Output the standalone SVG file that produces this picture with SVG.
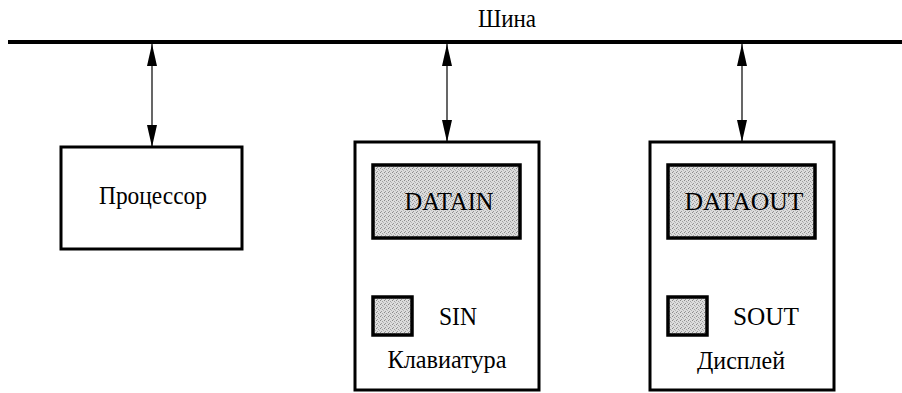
<svg xmlns="http://www.w3.org/2000/svg" width="902" height="393" viewBox="0 0 902 393">
  <style>
    text { font-family: "Liberation Serif", "Times New Roman", serif; font-size: 25px; fill: #000; text-anchor: middle; }
    .box { fill: #fff; stroke: #000; stroke-width: 3; }
    .reg { fill: url(#stipple); stroke: #000; stroke-width: 3.5; }
    .link { stroke: #000; stroke-width: 1.2; fill: none; marker-start: url(#head); marker-end: url(#head); }
  </style>
  <defs>
    <!-- fine grey stipple used for the register fields -->
    <pattern id="stipple" width="4" height="4" patternUnits="userSpaceOnUse">
      <rect width="4" height="4" fill="#dcdcdc"/>
      <rect x="0" y="0" width="1" height="1" fill="#8a8a8a"/>
      <rect x="2" y="1" width="1" height="1" fill="#a0a0a0"/>
      <rect x="1" y="3" width="1" height="1" fill="#9a9a9a"/>
      <rect x="3" y="2" width="1" height="1" fill="#b4b4b4"/>
    </pattern>
    <marker id="head" viewBox="0 0 22 10" refX="22" refY="5" markerWidth="22" markerHeight="10" markerUnits="userSpaceOnUse" orient="auto-start-reverse">
      <path d="M0,0 L22,5 L0,10 Z" fill="#000"/>
    </marker>
  </defs>

  <!-- system bus -->
  <g id="bus">
    <line x1="8" y1="42" x2="902" y2="42" stroke="#000" stroke-width="4"/>
    <text x="507" y="27" textLength="58" lengthAdjust="spacingAndGlyphs">Шина</text>
  </g>

  <!-- bus connections -->
  <g id="connectors">
    <line class="link" x1="152" y1="44" x2="152" y2="147"/>
    <line class="link" x1="447" y1="44" x2="447" y2="142"/>
    <line class="link" x1="742" y1="44" x2="742" y2="142"/>
  </g>

  <g id="processor">
    <rect class="box" x="61" y="147" width="181" height="102"/>
    <text x="153" y="204" textLength="108" lengthAdjust="spacingAndGlyphs">Процессор</text>
  </g>

  <g id="keyboard">
    <rect class="box" x="355" y="142" width="184" height="248"/>
    <rect class="reg" x="373" y="165" width="147" height="73"/>
    <text x="449" y="210" textLength="89" lengthAdjust="spacingAndGlyphs">DATAIN</text>
    <rect class="reg" x="373" y="297" width="39" height="38"/>
    <text x="458" y="325" textLength="38" lengthAdjust="spacingAndGlyphs">SIN</text>
    <text x="447" y="368" textLength="119" lengthAdjust="spacingAndGlyphs">Клавиатура</text>
  </g>

  <g id="display">
    <rect class="box" x="650" y="142" width="184" height="248"/>
    <rect class="reg" x="668" y="165" width="147" height="73"/>
    <text x="744" y="210" textLength="119" lengthAdjust="spacingAndGlyphs">DATAOUT</text>
    <rect class="reg" x="668" y="297" width="39" height="38"/>
    <text x="766" y="325" textLength="66" lengthAdjust="spacingAndGlyphs">SOUT</text>
    <text x="741" y="369" textLength="88" lengthAdjust="spacingAndGlyphs">Дисплей</text>
  </g>
</svg>
